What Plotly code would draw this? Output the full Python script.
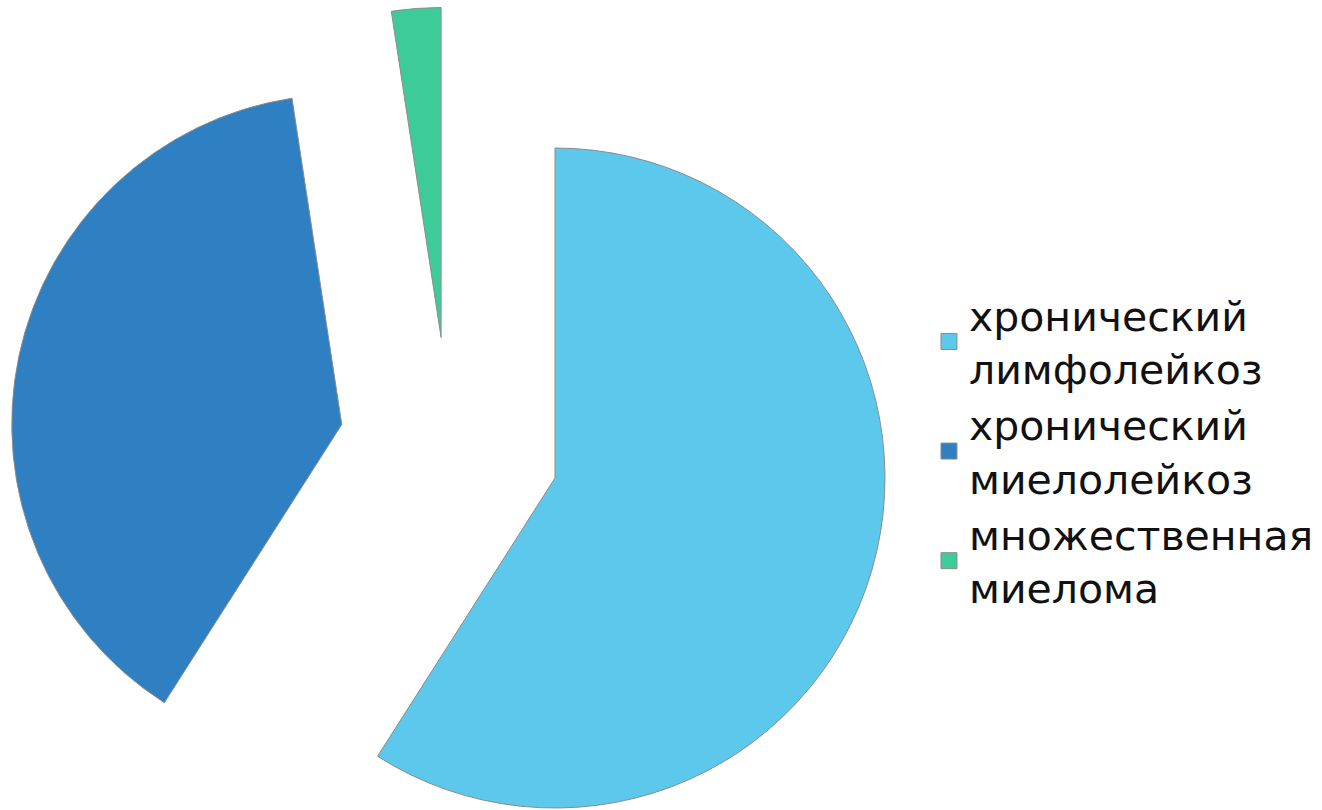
import math
import plotly.graph_objects as go

# ---- data ----
categories = ["хронический<br>лимфолейкоз", "хронический<br>миелолейкоз", "множественная<br>миелома"]
values = [49, 32, 2]
colors = ["#5BC8EC", "#2E80C2", "#3DCC99"]

# ---- layout constants ----
W, H = 1322, 810
CX, CY = 449.4, 447.2   # pixel centre of the un-exploded pie
R = 330                 # pie radius in px
PULL = 1 / 3            # explode distance as fraction of radius
EDGE = "#8c8c8c"

total = sum(values)
fig = go.Figure()

start = 0
for lab, v, col in zip(categories, values, colors):
    a0 = start / total * 360
    mid = math.radians((start + v / 2) / total * 360)
    ax = CX + PULL * R * math.sin(mid)
    ay = CY - PULL * R * math.cos(mid)
    dom_x = [max(0.0, (ax - R) / W), min(1.0, (ax + R) / W)]
    dom_y = [max(0.0, 1 - (ay + R) / H), min(1.0, 1 - (ay - R) / H)]
    fig.add_trace(go.Pie(
        labels=[lab, "_rest"], values=[v, total - v],
        sort=False, direction="clockwise", rotation=a0,
        marker=dict(colors=[col, "rgba(0,0,0,0)"],
                    line=dict(color=[EDGE, "rgba(0,0,0,0)"], width=[1, 0])),
        domain=dict(x=dom_x, y=dom_y),
        textinfo="none", showlegend=False, hoverinfo="skip",
    ))
    start += v

# legend entries
for lab, col in zip(categories, colors):
    fig.add_trace(go.Scatter(
        x=[None], y=[None], mode="markers", name=lab,
        marker=dict(symbol="square", size=16, color=col,
                    line=dict(color=EDGE, width=1)),
    ))

fig.update_layout(
    width=W, height=H,
    margin=dict(l=0, r=0, t=0, b=0),
    paper_bgcolor="white", plot_bgcolor="white",
    xaxis=dict(visible=False), yaxis=dict(visible=False),
    legend=dict(x=0.7027, xanchor="left", y=0.443, yanchor="middle",
                font=dict(family="DejaVu Sans", size=41, color="#111111"),
                bgcolor="rgba(0,0,0,0)", itemclick=False),
    showlegend=True,
)

fig.write_html("out.html")
